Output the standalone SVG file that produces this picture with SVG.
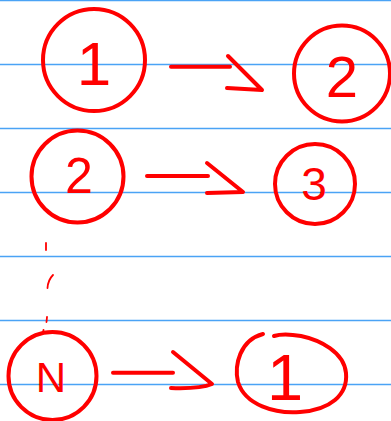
<svg xmlns="http://www.w3.org/2000/svg" width="391" height="421" viewBox="0 0 391 421">
<style>
.rule{stroke:#4aa3f5;stroke-width:1.5}
.ink{fill:none;stroke:#ff0000;stroke-width:4;stroke-linecap:round;stroke-linejoin:round}
.dot{fill:none;stroke:#ff0000;stroke-width:1.8;stroke-linecap:round}
.lbl{fill:#ff0000;font-family:"Liberation Sans",Arial,sans-serif;text-anchor:middle}
</style>
<rect width="391" height="421" fill="#ffffff"/>
<g id="paper">
<line class="rule" x1="0" y1="0.5" x2="391" y2="0.5"/>
<line class="rule" x1="0" y1="64.5" x2="391" y2="64.5"/>
<line class="rule" x1="0" y1="128.5" x2="391" y2="128.5"/>
<line class="rule" x1="0" y1="192.5" x2="391" y2="192.5"/>
<line class="rule" x1="0" y1="256.5" x2="391" y2="256.5"/>
<line class="rule" x1="0" y1="320.5" x2="391" y2="320.5"/>
<line class="rule" x1="0" y1="384.5" x2="391" y2="384.5"/>
</g>
<g id="connectors">
<path class="ink" d="M171 66.7 L230 66.7 M228 56 L262 90 L227 88"/>
<path class="ink" d="M147 176 L208 176 M207 163 L243 192 L207 193"/>
<path class="ink" d="M113 372.7 L173 372.7 M173 352 L212 384 Q200 389 171 388"/>
<path class="dot" d="M46 243 L46 250 M53 275 Q48 280 47.5 288 M47 317 L46.5 322 M43.5 330 L43 333"/>
</g>
<g id="node-1">
<circle class="ink" cx="94" cy="60" r="51"/>
<text class="lbl" x="94" y="85" font-size="62">1</text>
</g>
<g id="node-2-top">
<circle class="ink" cx="342" cy="73.5" r="48"/>
<text class="lbl" x="342" y="97" font-size="58">2</text>
</g>
<g id="node-2">
<circle class="ink" cx="77.5" cy="176.5" r="46"/>
<text class="lbl" x="79" y="193" font-size="50">2</text>
</g>
<g id="node-3">
<circle class="ink" cx="315" cy="184" r="40"/>
<text class="lbl" x="314" y="200" font-size="46">3</text>
</g>
<g id="node-N">
<circle class="ink" cx="52.5" cy="376" r="44"/>
<text class="lbl" x="51" y="392" font-size="42">N</text>
</g>
<g id="node-1-again">
<path class="ink" d="M263 334 C240 340 234 365 238 382 C245 405 275 414 300 412 C330 410 348 395 346 373 C344 352 320 340 301 336 C290 334 280 334 274 336"/>
<text class="lbl" x="285" y="400" font-size="65">1</text>
</g>
</svg>
